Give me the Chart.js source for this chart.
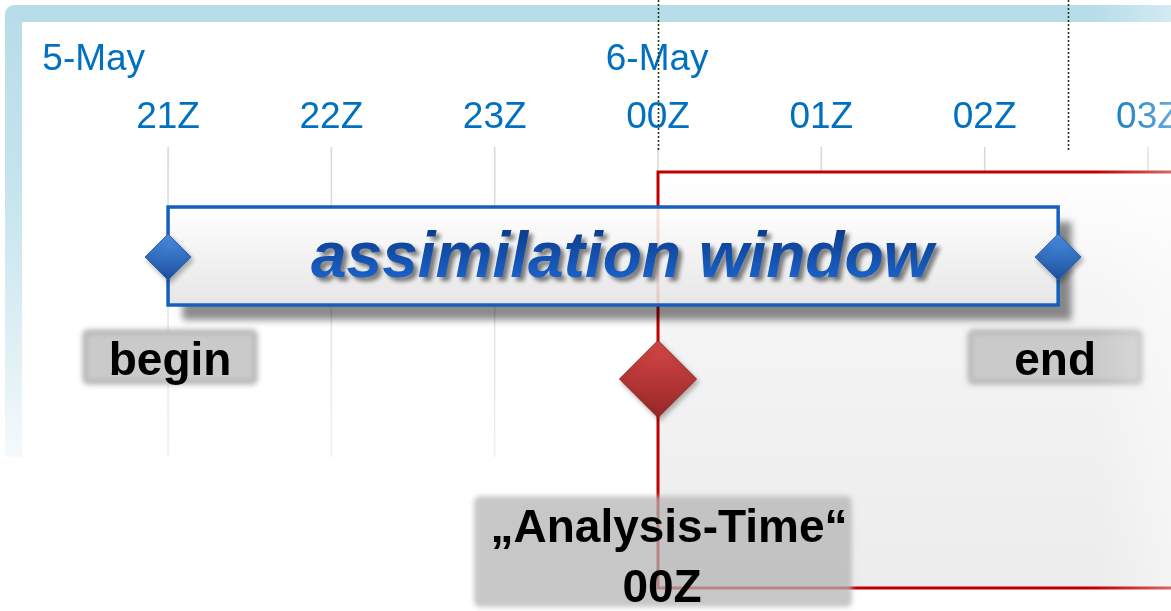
<!DOCTYPE html>
<html>
<head>
<meta charset="utf-8">
<script src="https://cdn.jsdelivr.net/npm/chart.js@4.4.1/dist/chart.umd.min.js"></script>
<style>
html, body { margin: 0; padding: 0; background: #fff; overflow: hidden; }
</style>
</head>
<body>
<canvas id="timeline" width="1171" height="611"></canvas>
<script>
// Hours relative to the analysis time (00Z, 6 May)
const hourTicks = [-3, -2, -1, 0, 1, 2, 3];
const hourLabels = ['21Z', '22Z', '23Z', '00Z', '01Z', '02Z', '03Z'];
const dayLabels = ['5-May', '6-May'];
const dayLabelHours = [-3.77, -0.32];
const markerHours = [0, 2.51];
const windowBegin = -3;
const windowEnd = 2.45;
const analysisTime = 0;
const windowTitle = 'assimilation window';
const pointLabels = ['begin', 'end'];
const analysisLabel = ['\u201EAnalysis-Time\u201C', '00Z'];

// Visible hour range of the page
const xMin = -4.029;
const xMax = 3.141;

// Vertical layout (y scale is pixel aligned)
const rows = {
    day: 70, hour: 128, gridTop: 147, gridBottom: 457,
    rectTop: 172, rectBottom: 588, boxTop: 207, boxBottom: 305,
    window: 257, label: 357, analysis: 379, noteTop: 496, noteBottom: 607
};

const FONT = "'Liberation Sans', Arial, sans-serif";
const colors = {
    tick: '#0070C0',
    frame: '#b7dde8',
    red: '#c00000',
    boxBlue: '#1560be',
    grid: '#d6d6d6'
};

function diamondFill(top, bottom) {
    return function(context) {
        const chart = context.chart;
        if (!chart.chartArea || !context.raw) return top;
        const yy = chart.scales.y.getPixelForValue(context.raw.y);
        const r = context.dataset.pointRadius;
        const g = chart.ctx.createLinearGradient(0, yy - r, 0, yy + r);
        g.addColorStop(0, top);
        g.addColorStop(1, bottom);
        return g;
    };
}

// soft-edged grey label plate
function greyLabel(ctx, cx, cy, w, h, edge, inner) {
    ctx.save();
    ctx.filter = 'blur(2.5px)';
    ctx.fillStyle = edge;
    ctx.beginPath();
    ctx.roundRect(cx - w / 2, cy - h / 2, w, h, 6);
    ctx.fill();
    if (inner) {
        ctx.filter = 'blur(2px)';
        ctx.fillStyle = inner;
        ctx.beginPath();
        ctx.roundRect(cx - w / 2 + 6, cy - h / 2 + 6, w - 12, h - 12, 3);
        ctx.fill();
    }
    ctx.restore();
}

const diagram = {
    id: 'diagram',
    beforeDatasetsDraw(chart) {
        const { ctx, width, height } = chart;
        const x = chart.scales.x, y = chart.scales.y;
        const px = v => x.getPixelForValue(v);
        const py = v => y.getPixelForValue(v);
        ctx.save();
        ctx.fillStyle = '#fff';
        ctx.fillRect(0, 0, width, height);

        // light blue frame
        const lg = ctx.createLinearGradient(0, 5, 0, rows.gridBottom);
        lg.addColorStop(0, colors.frame);
        lg.addColorStop(0.4, '#c5e4ed');
        lg.addColorStop(0.8, '#e3f1f6');
        lg.addColorStop(1, '#f5fafc');
        ctx.fillStyle = lg;
        ctx.fillRect(5, 14, 17, rows.gridBottom - 14);
        ctx.fillStyle = colors.frame;
        ctx.beginPath();
        ctx.roundRect(5, 5, width + 20, 17, [9, 0, 0, 0]);
        ctx.fill();

        // hour grid lines
        const gg = ctx.createLinearGradient(0, rows.gridTop, 0, rows.gridBottom);
        gg.addColorStop(0, colors.grid);
        gg.addColorStop(1, '#efefef');
        ctx.strokeStyle = gg;
        ctx.lineWidth = 1.5;
        hourTicks.forEach(h => {
            ctx.beginPath();
            ctx.moveTo(px(h), py(rows.gridTop));
            ctx.lineTo(px(h), py(rows.gridBottom));
            ctx.stroke();
        });

        // forecast region (red frame)
        const x0 = px(analysisTime);
        const rg = ctx.createLinearGradient(0, rows.rectTop, 0, rows.rectBottom);
        rg.addColorStop(0, '#ffffff');
        rg.addColorStop(0.3, '#f5f5f5');
        rg.addColorStop(1, '#ececec');
        ctx.fillStyle = rg;
        ctx.fillRect(x0, py(rows.rectTop), width - x0 + 10, py(rows.rectBottom) - py(rows.rectTop));
        ctx.strokeStyle = colors.red;
        ctx.lineWidth = 3;
        ctx.beginPath();
        ctx.moveTo(width + 10, py(rows.rectTop));
        ctx.lineTo(x0, py(rows.rectTop));
        ctx.lineTo(x0, py(rows.rectBottom));
        ctx.lineTo(width + 10, py(rows.rectBottom));
        ctx.stroke();

        // date and hour labels
        ctx.fillStyle = colors.tick;
        ctx.font = '37px ' + FONT;
        ctx.textBaseline = 'alphabetic';
        ctx.textAlign = 'left';
        dayLabels.forEach((t, i) => ctx.fillText(t, px(dayLabelHours[i]), py(rows.day)));
        ctx.textAlign = 'center';
        hourLabels.forEach((t, i) => ctx.fillText(t, px(hourTicks[i]), py(rows.hour)));

        // dotted guides at the top
        ctx.strokeStyle = '#1d3b1d';
        ctx.lineWidth = 1.6;
        ctx.setLineDash([2, 2]);
        markerHours.forEach(h => {
            ctx.beginPath();
            ctx.moveTo(Math.round(px(h)) + 0.5, 0);
            ctx.lineTo(Math.round(px(h)) + 0.5, py(rows.gridTop + 3));
            ctx.stroke();
        });
        ctx.setLineDash([]);

        // assimilation window box
        const bx = px(windowBegin), bw = px(windowEnd) - bx;
        const by = py(rows.boxTop), bh = py(rows.boxBottom) - by;
        ctx.save();
        ctx.shadowColor = 'rgba(0,0,0,0.45)';
        ctx.shadowBlur = 7;
        ctx.shadowOffsetX = 14;
        ctx.shadowOffsetY = 15;
        ctx.fillStyle = '#fff';
        ctx.fillRect(bx, by, bw, bh);
        ctx.restore();
        const bg = ctx.createLinearGradient(0, by, 0, by + bh);
        bg.addColorStop(0, '#ffffff');
        bg.addColorStop(1, '#e6e6e6');
        ctx.fillStyle = bg;
        ctx.fillRect(bx, by, bw, bh);
        ctx.strokeStyle = 'rgba(192,0,0,0.12)';
        ctx.lineWidth = 3;
        ctx.beginPath();
        ctx.moveTo(x0, by);
        ctx.lineTo(x0, by + bh);
        ctx.stroke();
        ctx.strokeStyle = colors.boxBlue;
        ctx.lineWidth = 3.5;
        ctx.strokeRect(bx, by, bw, bh);

        ctx.save();
        ctx.font = 'italic bold 64px ' + FONT;
        ctx.textAlign = 'center';
        const tg = ctx.createLinearGradient(0, py(rows.window) - 30, 0, py(rows.window) + 20);
        tg.addColorStop(0, '#0b3a8a');
        tg.addColorStop(1, '#1a60c6');
        ctx.fillStyle = tg;
        ctx.shadowColor = 'rgba(0,0,0,0.5)';
        ctx.shadowBlur = 4;
        ctx.shadowOffsetX = 4;
        ctx.shadowOffsetY = 4;
        ctx.fillText(windowTitle, bx + bw / 2 + 9, py(rows.window) + 20);
        ctx.restore();

        // begin / end labels
        [windowBegin, windowEnd].forEach((h, i) => {
            const cx = px(h) + (i === 0 ? 2 : -3);
            greyLabel(ctx, cx, py(rows.label), 176, 56, '#bcbcbc', '#cacaca');
            ctx.fillStyle = '#000';
            ctx.font = 'bold 46px ' + FONT;
            ctx.textAlign = 'center';
            ctx.fillText(pointLabels[i], cx, py(rows.label) + 18);
        });

        // analysis time note
        const nx = x0 + 5;
        const ny = (py(rows.noteTop) + py(rows.noteBottom)) / 2;
        greyLabel(ctx, nx, ny, 378, py(rows.noteBottom) - py(rows.noteTop), 'rgba(180,180,180,0.74)', null);
        ctx.fillStyle = '#000';
        ctx.font = 'bold 46px ' + FONT;
        ctx.textAlign = 'center';
        ctx.fillText(analysisLabel[0], nx + 6, py(rows.noteTop) + 46);
        ctx.fillText(analysisLabel[1], nx - 1, py(rows.noteTop) + 106);
        ctx.restore();

        // soft shadow for the diamonds
        ctx.shadowColor = 'rgba(0,0,0,0.3)';
        ctx.shadowBlur = 5;
        ctx.shadowOffsetX = 2;
        ctx.shadowOffsetY = 3;
    },
    afterDatasetsDraw(chart) {
        const { ctx, width, height } = chart;
        ctx.shadowColor = 'rgba(0,0,0,0)';
        ctx.shadowBlur = 0;
        ctx.shadowOffsetX = 0;
        ctx.shadowOffsetY = 0;
        // fade towards the right edge
        const fg = ctx.createLinearGradient(1095, 0, width, 0);
        fg.addColorStop(0, 'rgba(255,255,255,0)');
        fg.addColorStop(1, 'rgba(255,255,255,0.4)');
        ctx.fillStyle = fg;
        ctx.fillRect(1095, 0, width - 1095, height);
    }
};

new Chart(document.getElementById('timeline'), {
    type: 'scatter',
    data: {
        datasets: [
            {
                label: 'window limits',
                data: [{ x: windowBegin, y: rows.window }, { x: windowEnd, y: rows.window }],
                pointStyle: 'rectRot',
                pointRadius: 23,
                backgroundColor: diamondFill('#4a90e3', '#1c4f9c'),
                borderColor: '#2b62b0',
                borderWidth: 1,
                clip: false
            },
            {
                label: 'analysis time',
                data: [{ x: analysisTime, y: rows.analysis }],
                pointStyle: 'rectRot',
                pointRadius: 38.5,
                backgroundColor: diamondFill('#d64848', '#982626'),
                borderColor: '#8e2222',
                borderWidth: 1,
                clip: false
            }
        ]
    },
    options: {
        responsive: false,
        animation: false,
        events: [],
        layout: { padding: 0, autoPadding: false },
        scales: {
            x: { type: 'linear', min: xMin, max: xMax, display: false },
            y: { type: 'linear', min: 0, max: 611, reverse: true, display: false }
        },
        plugins: {
            legend: { display: false },
            tooltip: { enabled: false }
        }
    },
    plugins: [diagram]
});
</script>
</body>
</html>
